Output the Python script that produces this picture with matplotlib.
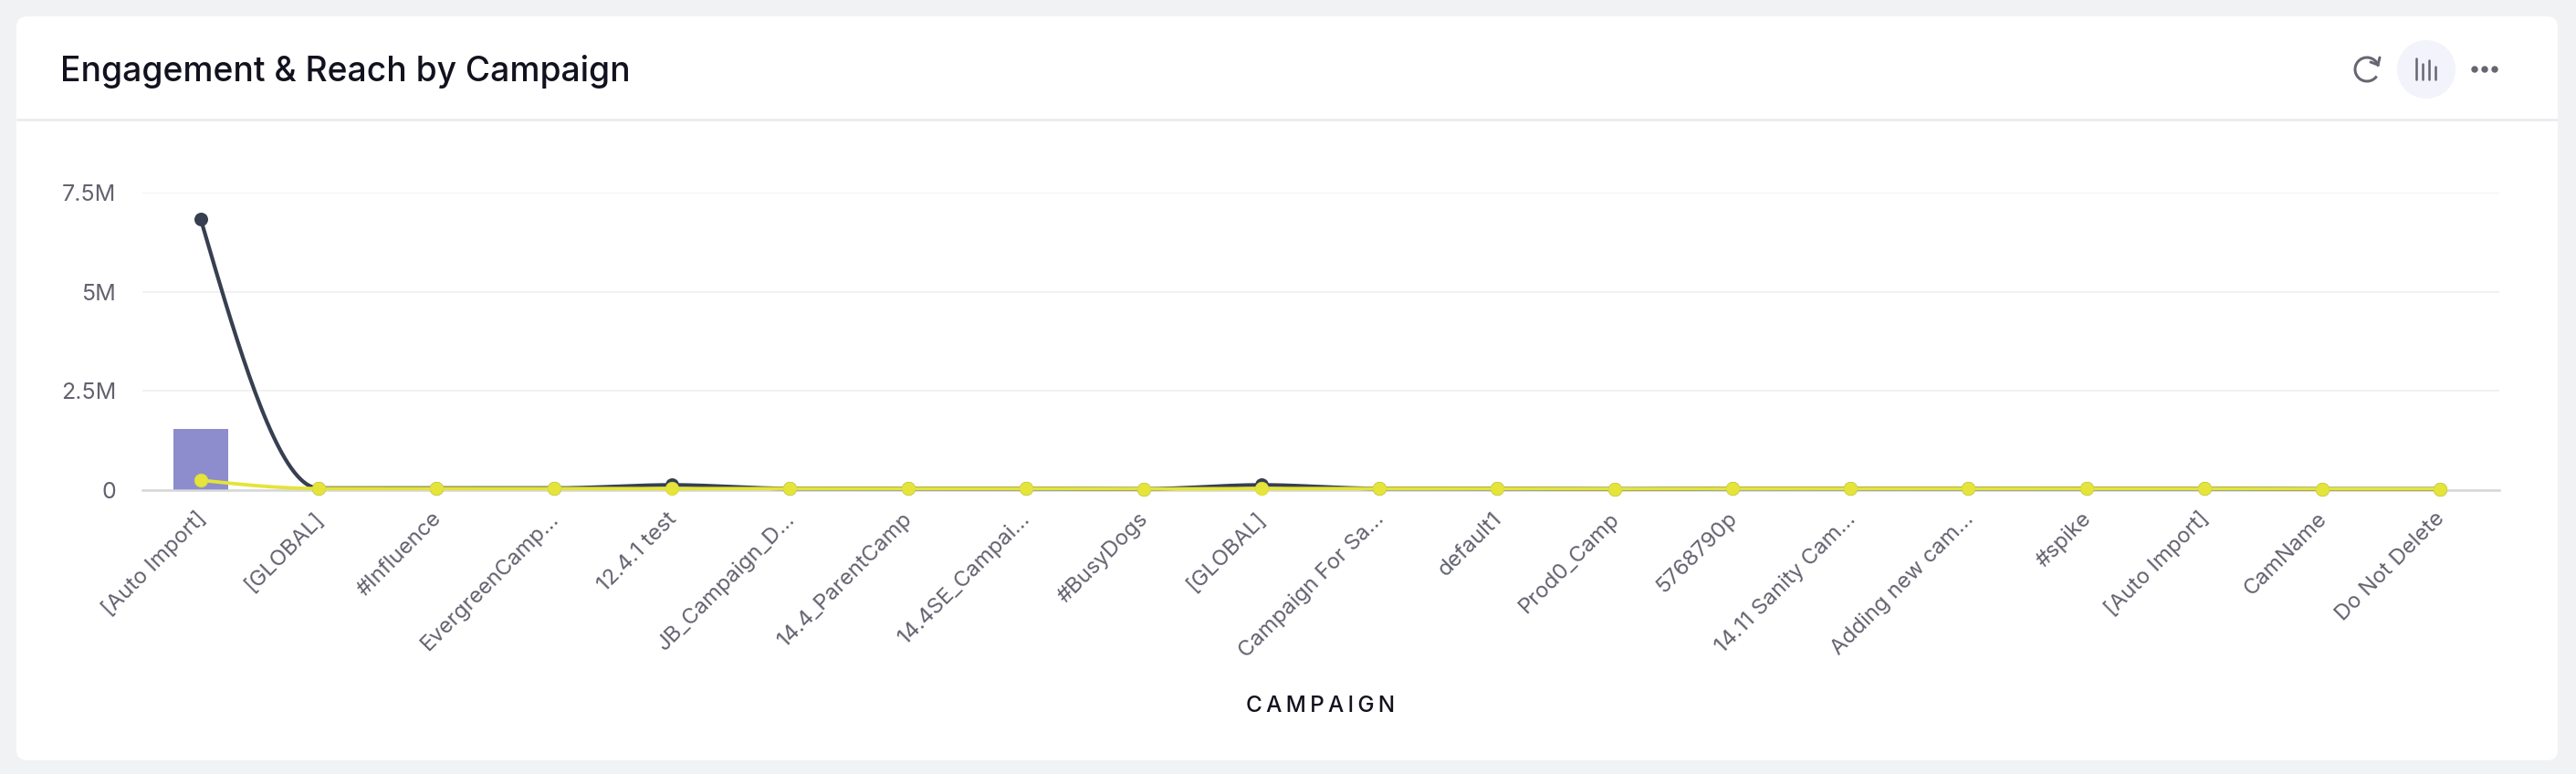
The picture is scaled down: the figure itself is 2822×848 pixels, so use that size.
import numpy as np
import matplotlib
matplotlib.use("Agg")
import matplotlib.pyplot as plt
from matplotlib.patches import FancyBboxPatch, Circle, Arc
from matplotlib.transforms import ScaledTranslation

# values, in millions
campaigns = ["[Auto Import]", "[GLOBAL]", "#Influence", "EvergreenCamp...", "12.4.1 test",
             "JB_Campaign_D...", "14.4_ParentCamp", "14.4SE_Campai...", "#BusyDogs", "[GLOBAL]",
             "Campaign For Sa...", "default1", "Prod0_Camp", "5768790p", "14.11 Sanity Cam...",
             "Adding new cam...", "#spike", "[Auto Import]", "CamName", "Do Not Delete"]
bar_vals = [1.54, 0.01, 0.01, 0.01, 0.01, 0.01, 0.01, 0.01, 0.01, 0.01,
            0.01, 0.01, 0.01, 0.01, 0.01, 0.01, 0.01, 0.01, 0.01, 0.01]
dark_vals = [6.83, 0.05, 0.05, 0.05, 0.13, 0.04, 0.04, 0.04, 0.03, 0.13,
             0.04, 0.04, 0.03, 0.04, 0.04, 0.04, 0.04, 0.04, 0.03, 0.03]
yellow_vals = [0.25, 0.04, 0.04, 0.04, 0.04, 0.04, 0.04, 0.04, 0.03, 0.04,
               0.04, 0.04, 0.03, 0.04, 0.04, 0.04, 0.04, 0.04, 0.03, 0.03]
y_ticks = [0, 2.5, 5, 7.5]
y_labels = ["0", "2.5M", "5M", "7.5M"]

W, H = 2822, 848
FONT = "Inter"
plt.rcParams["font.family"] = [FONT, "DejaVu Sans"]

DARK = "#373f51"
YELLOW = "#e4e43a"
PURPLE = "#8d8ccc"
GREY_TXT = "#62626f"


def px(v):
    return v * 72 / 100


def monotone(x, y, n=40):
    # monotone cubic through the points, same idea as d3 curveMonotoneX
    x = np.asarray(x, float)
    y = np.asarray(y, float)
    s = np.diff(y) / np.diff(x)
    m = np.zeros_like(y)
    for i in range(1, len(y) - 1):
        if s[i - 1] * s[i] > 0:
            m[i] = 2 * s[i - 1] * s[i] / (s[i - 1] + s[i])
    m[0] = (3 * s[0] - m[1]) / 2
    m[-1] = (3 * s[-1] - m[-2]) / 2
    xs, ys = [], []
    for i in range(len(y) - 1):
        t = np.linspace(0, 1, n)
        h = x[i + 1] - x[i]
        xs.append(x[i] + t * h)
        ys.append((2*t**3 - 3*t**2 + 1) * y[i] + (t**3 - 2*t**2 + t) * h * m[i]
                  + (-2*t**3 + 3*t**2) * y[i + 1] + (t**3 - t**2) * h * m[i + 1])
    return np.concatenate(xs), np.concatenate(ys)


fig = plt.figure(figsize=(W / 100, H / 100), dpi=100, facecolor="#f1f2f4")

# page furniture, drawn in pixel coords
bg = fig.add_axes([0, 0, 1, 1], zorder=0)
bg.set_xlim(0, W)
bg.set_ylim(H, 0)
bg.axis("off")
bg.add_patch(FancyBboxPatch((18 + 12, 18 + 12), 2784 - 24, 815 - 24,
                            boxstyle="round,pad=12,rounding_size=12", fc="white", ec="none"))
bg.plot([18, 2802], [131, 131], color="#e9e9ef", lw=px(2.5), solid_capstyle="butt")
bg.text(66, 89, "Engagement & Reach by Campaign", fontsize=26.8, color="#12121f",
        fontweight="medium", ha="left", va="baseline")

# refresh icon
ic = "#666672"
bg.add_patch(Arc((2593, 76), 26, 26, theta1=-325, theta2=-15, color=ic, lw=px(3)))
bg.plot([2597, 2605, 2607], [68, 71, 63], color=ic, lw=px(3), solid_capstyle="round",
        solid_joinstyle="round")
# chart toggle icon
bg.add_patch(Circle((2658, 76), 32, fc="#f2f3fb", ec="none"))
for bx, top in zip([2647, 2654, 2661, 2668], [64, 70, 66, 73]):
    bg.plot([bx, bx], [top, 87], color=ic, lw=px(2.5), solid_capstyle="round")
# menu dots
for dx in [2711, 2722, 2733]:
    bg.add_patch(Circle((dx, 76), 3.7, fc=ic, ec="none"))

# chart
left, right, top, bottom = 156, 2738, 211, 537
ax = fig.add_axes([left / W, 1 - bottom / H, (right - left) / W, (bottom - top) / H], zorder=1)
ax.patch.set_visible(False)
x = np.arange(len(campaigns))
ax.set_xlim(-0.495, len(campaigns) - 0.495)
ax.set_ylim(0, 7.5)

ax.bar(x, bar_vals, width=60 / 129.1, color=PURPLE, zorder=2)

lx, ly = monotone(x, dark_vals)
ax.plot(lx, ly, color=DARK, lw=px(4.2), zorder=3, clip_on=False)
ax.plot(x, dark_vals, "o", color=DARK, ms=px(15), mew=0, zorder=3, clip_on=False)
lx, ly = monotone(x, yellow_vals)
ax.plot(lx, ly, color=YELLOW, lw=px(3.8), zorder=4, clip_on=False)
ax.plot(x, yellow_vals, "o", color=YELLOW, ms=px(14.5), mec="#dcdc3c", mew=px(0.8), zorder=4,
        clip_on=False)

for s in ["top", "left", "right"]:
    ax.spines[s].set_visible(False)
ax.spines["bottom"].set_color("#d6d6da")
ax.spines["bottom"].set_linewidth(px(2.5))
ax.yaxis.grid(True, color="#f1f1f4", lw=px(2))
ax.set_axisbelow(True)

ax.set_yticks(y_ticks)
ax.set_yticklabels(y_labels)
ax.tick_params(axis="y", length=0, pad=px(29), labelsize=18, labelcolor=GREY_TXT)
ax.set_xticks(x)
ax.set_xticklabels(campaigns, rotation=45, ha="right", va="center", rotation_mode="anchor")
ax.tick_params(axis="x", length=0, pad=px(28), labelsize=17.2, labelcolor=GREY_TXT)
nudge = ScaledTranslation(2 / 100, 0, fig.dpi_scale_trans)
for lab in ax.get_xticklabels():
    lab.set_transform(lab.get_transform() + nudge)

fig.text(1447 / W, 1 - 780 / H, "\u2009".join("CAMPAIGN"), fontsize=17.5, color="#12121f",
         fontweight="medium", ha="center", va="baseline")

fig.savefig("out.png", dpi=100, facecolor=fig.get_facecolor())
